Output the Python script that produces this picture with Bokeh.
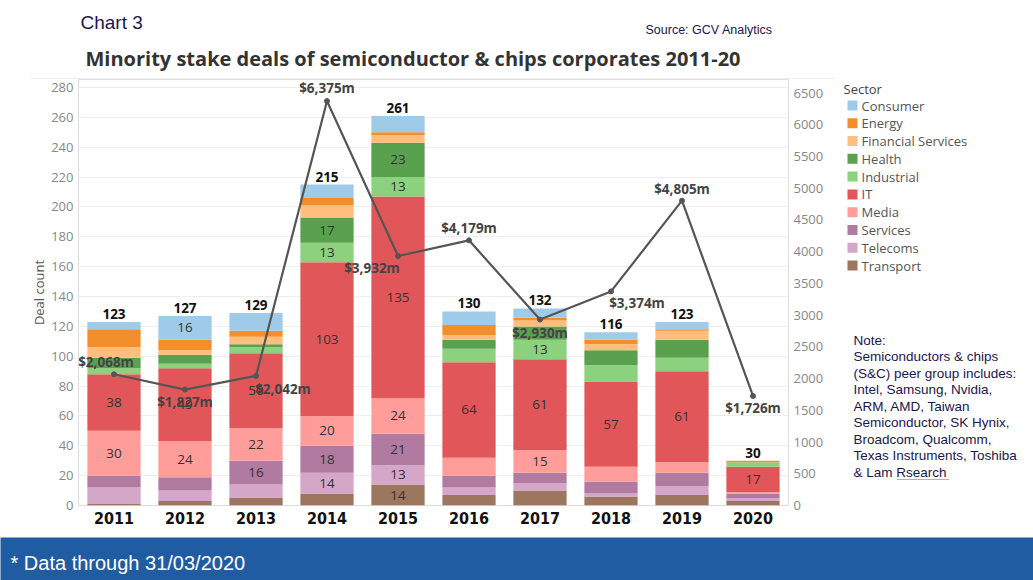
import numpy as np
from bokeh.plotting import figure
from bokeh.layouts import column, row
from bokeh.models import (ColumnDataSource, Range1d, LinearAxis, FactorRange, SingleIntervalTicker)
from bokeh.core.properties import value
from bokeh.embed import file_html
from bokeh.resources import INLINE

# ---------------- data ----------------
years = ["2011", "2012", "2013", "2014", "2015", "2016", "2017", "2018", "2019", "2020"]
sectors = ["Transport", "Telecoms", "Services", "Media", "IT", "Industrial", "Health",
           "Financial Services", "Energy", "Consumer"]
transport = [1, 3, 5, 8, 14, 7, 10, 6, 7, 3]
telecoms = [11, 7, 9, 14, 13, 5, 5, 2, 6, 2]
services = [8, 9, 16, 18, 21, 8, 7, 8, 9, 3]
media = [30, 24, 22, 20, 24, 12, 15, 10, 7, 1]
it = [38, 49, 50, 103, 135, 64, 61, 57, 61, 17]
industrial = [4, 3, 4, 13, 13, 9, 13, 11, 9, 3]
health = [7, 6, 2, 17, 23, 6, 9, 10, 12, 0]
financial = [7, 3, 5, 8, 5, 3, 4, 4, 6, 0]
energy = [12, 7, 4, 5, 2, 7, 2, 3, 1, 1]
consumer = [5, 16, 12, 9, 11, 9, 6, 5, 5, 0]
deal_value = [2068, 1827, 2042, 6375, 3932, 4179, 2930, 3374, 4805, 1726]

colors = ["#9d7660", "#d4a6c8", "#b07aa1", "#ff9d9a", "#e15759", "#8cd17d", "#59a14f",
          "#ffbe7d", "#f28e2b", "#a0cbe8"]
series = [transport, telecoms, services, media, it, industrial, health, financial, energy, consumer]
keys = ["s%d" % i for i in range(len(sectors))]

note_lines = ["Note:", "Semiconductors & chips", "(S&C) peer group includes:",
              "Intel, Samsung, Nvidia,", "ARM, AMD, Taiwan", "Semiconductor, SK Hynix,",
              "Broadcom, Qualcomm,", "Texas Instruments, Toshiba", "& Lam Rsearch"]

# label placement for the deal value line (screen px, down positive)
val_dx = [-8, 0, 27, 0, -26, 0, 0, 26, 0, 0]
val_dy = [-12, 12, 13, -13, 12, -12, 13, 12, -12, 12]

W, H = 1033, 580
TOP_H, BAN_Y = 79, 537
MAIN_W = 843
FL, FR = 78, 788
FB = 505
MID_H = BAN_Y - TOP_H
BOT_BORDER = MID_H - (FB - TOP_H)


def blank(width, height, x0, x1, y0, y1, bg="white", bottom=0):
    f = figure(width=width, height=height, x_range=Range1d(x0, x1), y_range=Range1d(y1, y0),
               output_backend="svg", toolbar_location=None, x_axis_location=None,
               y_axis_location=None, min_border=0, min_border_bottom=bottom)
    f.grid.visible = False
    f.outline_line_color = None
    f.background_fill_color = bg
    f.border_fill_color = bg
    return f


# ---------------- top strip (titles) ----------------
top = blank(W, TOP_H, 0, W, 0, TOP_H)
top.text(x=[80], y=[22], text=["Chart 3"], text_baseline="middle", text_font=value("Liberation Sans"),
         text_font_size="19px", text_color="#1a1650")
top.text(x=[645], y=[29], text=["Source: GCV Analytics"], text_baseline="middle",
         text_font=value("Liberation Sans"), text_font_size="12.5px", text_color="#1a1650")
top.text(x=[85], y=[58], text=["Minority stake deals of semiconductor & chips corporates 2011-20"],
         text_baseline="middle", text_font=value("Open Sans"), text_font_size="20px",
         text_font_style="bold", text_color="#333333")
top.segment(x0=[30], y0=[78.5], x1=[835], y1=[78.5], line_color="#dddddd", line_width=1)

# ---------------- main chart ----------------
p = figure(width=MAIN_W, height=MID_H, x_range=FactorRange(*years), y_range=Range1d(0, 285.4),
           output_backend="svg", toolbar_location=None,
           min_border_left=FL, min_border_right=MAIN_W - FR, min_border_top=0,
           min_border_bottom=BOT_BORDER)
p.extra_y_ranges = {"amt": Range1d(0, 6714)}
p.background_fill_color = "white"
p.border_fill_color = "white"
p.outline_line_color = "#dddddd"

data = {"year": years}
for k, s in zip(keys, series):
    data[k] = s
src = ColumnDataSource(data)
p.vbar_stack(keys, x="year", width=0.75, color=colors, line_color=None, source=src)

arr = np.array(series, dtype=float)
cum = np.cumsum(arr, axis=0)
lx, ly, lt = [], [], []
for i in range(arr.shape[0]):
    for j in range(arr.shape[1]):
        if arr[i, j] >= 13:
            lx.append(years[j])
            ly.append(cum[i, j] - arr[i, j] / 2)
            lt.append("%d" % arr[i, j])
p.text(x=lx, y=ly, text=lt, text_align="center", text_baseline="middle",
       text_font=value("Open Sans"), text_font_size="13.5px", text_color="#333333")

totals = cum[-1]
p.text(x=years, y=list(totals), text=["%d" % t for t in totals], text_align="center",
       text_baseline="bottom", y_offset=-3, text_font=value("Open Sans"),
       text_font_size="13.5px", text_font_style="bold", text_color="#111111")

p.line(years, deal_value, y_range_name="amt", line_color="#555555", line_width=2.2)
p.scatter(years, deal_value, y_range_name="amt", size=5, color="#555555")
p.text(x=years, y=deal_value, y_range_name="amt",
       text=["${:,}m".format(v) for v in deal_value],
       x_offset=val_dx, y_offset=val_dy, text_align="center", text_baseline="middle",
       text_font=value("Open Sans"), text_font_size="13.5px", text_font_style="bold",
       text_color="#444444")

p.yaxis.ticker = SingleIntervalTicker(interval=20)
p.yaxis.axis_label = "Deal count"
p.yaxis.axis_label_text_font = "Open Sans"
p.yaxis.axis_label_text_font_style = "normal"
p.yaxis.axis_label_text_font_size = "13px"
p.yaxis.axis_label_text_color = "#555555"
p.yaxis.axis_label_standoff = 0
p.yaxis.major_label_text_font = "Open Sans"
p.yaxis.major_label_text_font_size = "13px"
p.yaxis.major_label_text_color = "#888888"
p.yaxis.major_label_standoff = 5
p.yaxis.axis_line_color = None
p.yaxis.major_tick_line_color = None
p.yaxis.minor_tick_line_color = None
p.yaxis.major_tick_out = 0
p.yaxis.minor_tick_out = 0

ax2 = LinearAxis(y_range_name="amt", ticker=SingleIntervalTicker(interval=500))
ax2.major_label_text_font = "Open Sans"
ax2.major_label_text_font_size = "13px"
ax2.major_label_text_color = "#888888"
ax2.major_label_standoff = 5
ax2.axis_line_color = None
ax2.major_tick_line_color = None
ax2.minor_tick_line_color = None
ax2.major_tick_out = 0
ax2.minor_tick_out = 0
p.add_layout(ax2, "right")

p.xaxis.major_label_text_font = "DejaVu Sans Condensed"
p.xaxis.major_label_text_font_style = "bold"
p.xaxis.major_label_text_font_size = "16px"
p.xaxis.major_label_text_color = "#111111"
p.xaxis.major_label_standoff = 6
p.xaxis.axis_line_color = None
p.xaxis.major_tick_line_color = None
p.xaxis.major_tick_out = 0
p.xaxis.minor_tick_out = 0
p.xgrid.grid_line_color = None
p.ygrid.grid_line_color = "#eeeeee"

# ---------------- side panel (legend + note) ----------------
SIDE_W = W - MAIN_W
side = blank(SIDE_W, MID_H, MAIN_W, W, TOP_H, FB, bottom=BOT_BORDER)
side.text(x=[843], y=[88], text=["Sector"], text_baseline="middle", text_font=value("Open Sans"),
          text_font_size="13px", text_color="#444444")
leg_names = sectors[::-1]
leg_cols = colors[::-1]
leg_y = [105 + i * 17.78 for i in range(len(leg_names))]
side.rect(x=[852] * len(leg_names), y=leg_y, width=10, height=10, fill_color=leg_cols, line_color=None)
side.text(x=[861] * len(leg_names), y=leg_y, text=leg_names, text_baseline="middle",
          text_font=value("Open Sans"), text_font_size="13px", text_color="#555555")
note_y = [340 + i * 16.45 for i in range(len(note_lines))]
side.text(x=[853] * len(note_lines), y=note_y, text=note_lines, text_baseline="middle",
          text_font=value("Liberation Sans"), text_font_size="13.5px", text_color="#1a1650")
# spell-check underline under "Rsearch"
side.segment(x0=[897], y0=[479], x1=[948], y1=[479], line_color="#e03030", line_width=1,
             line_dash="1 1")

# ---------------- banner ----------------
ban = blank(W, H - BAN_Y, 0, W, BAN_Y, H, bg="#1f5ca1")
ban.text(x=[10], y=[562], text=["* Data through 31/03/2020"], text_baseline="middle",
         text_font=value("Liberation Sans"), text_font_size="20px", text_color="white")

layout = column(top, row(p, side, spacing=0), ban, spacing=0)
open("out.html", "w").write(file_html(layout, INLINE))
